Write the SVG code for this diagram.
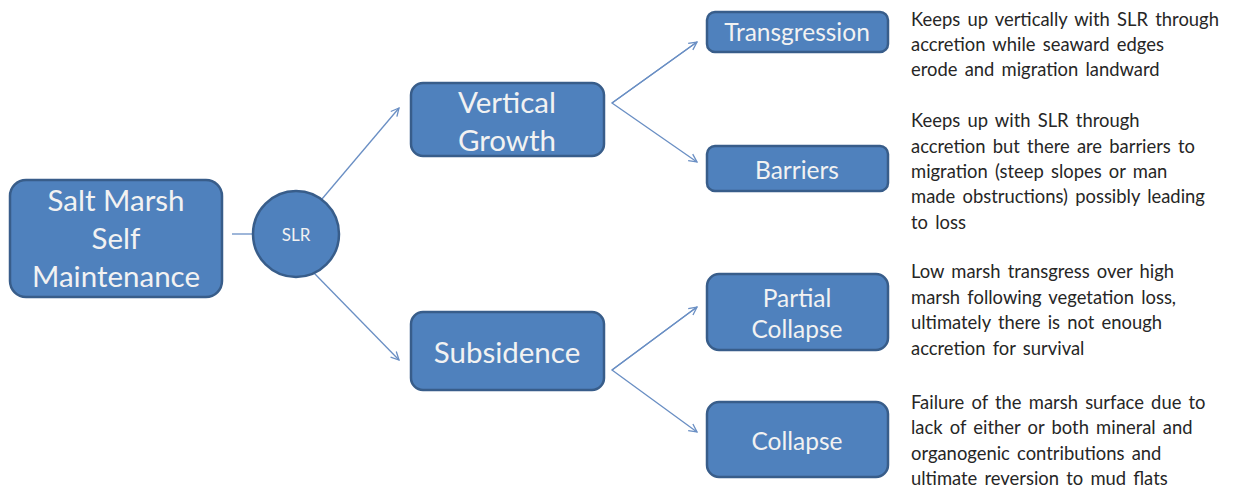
<svg xmlns="http://www.w3.org/2000/svg" width="1233" height="491" viewBox="0 0 1233 491">
<style>
.box{fill:#4f81bd;stroke:#385d8a;stroke-width:2.5}
.bt{fill:#f2f2f2;font-family:Lato,"Liberation Sans",sans-serif;text-anchor:middle;dominant-baseline:central}
.big{font-size:29.5px}
.mid{font-size:24.5px}
.desc{fill:#262626;font-family:Lato,"Liberation Sans",sans-serif;font-size:18.4px;word-spacing:2.5px}
.con{stroke:#6a8fc4;stroke-width:1.3;fill:none}
</style>
<defs>
<marker id="arr" viewBox="0 0 10 10" refX="9" refY="5" markerWidth="10" markerHeight="10" markerUnits="userSpaceOnUse" orient="auto">
<path d="M1,1 L9,5 L1,9" fill="none" stroke="#6a8fc4" stroke-width="1.3"/>
</marker>
</defs>
<rect width="1233" height="491" fill="#ffffff"/>
<g id="connectors">
<line class="con" x1="232" y1="234" x2="252" y2="234"/>
<line class="con" x1="322" y1="199" x2="399" y2="108" marker-end="url(#arr)"/>
<line class="con" x1="314" y1="273" x2="399" y2="360" marker-end="url(#arr)"/>
<polyline class="con" points="697,42 612,103 697,162" marker-end="url(#arr)"/>
<line class="con" x1="612" y1="103" x2="697" y2="42" marker-end="url(#arr)"/>
<polyline class="con" points="697,307 612,370 697,432" marker-end="url(#arr)"/>
<line class="con" x1="612" y1="370" x2="697" y2="307" marker-end="url(#arr)"/>
</g>
<g id="salt-marsh">
<rect class="box" x="10" y="180" width="212" height="117" rx="16"/>
<text class="bt big" x="116" y="199">Salt Marsh</text>
<text class="bt big" x="116" y="237">Self</text>
<text class="bt big" x="116" y="275">Maintenance</text>
</g>
<g id="slr">
<circle class="box" cx="296" cy="234" r="43"/>
<text class="bt" x="296" y="234" font-size="17">SLR</text>
</g>
<g id="vertical-growth">
<rect class="box" x="411" y="83" width="193" height="73" rx="12"/>
<text class="bt big" x="507" y="101">Vertical</text>
<text class="bt big" x="507" y="139">Growth</text>
</g>
<g id="subsidence">
<rect class="box" x="411" y="312" width="193" height="78" rx="12"/>
<text class="bt big" x="507" y="351">Subsidence</text>
</g>
<g id="transgression">
<rect class="box" x="707" y="12" width="181" height="40" rx="8"/>
<text class="bt mid" x="797" y="31">Transgression</text>
</g>
<g id="barriers">
<rect class="box" x="707" y="146" width="181" height="45" rx="8"/>
<text class="bt mid" x="797" y="169">Barriers</text>
</g>
<g id="partial-collapse">
<rect class="box" x="707" y="274" width="181" height="76" rx="12"/>
<text class="bt mid" x="797" y="297">Partial</text>
<text class="bt mid" x="797" y="328">Collapse</text>
</g>
<g id="collapse">
<rect class="box" x="707" y="402" width="181" height="75" rx="12"/>
<text class="bt mid" x="797" y="440">Collapse</text>
</g>
<g id="descriptions">
<text class="desc" x="911" y="26">Keeps up vertically with SLR through</text>
<text class="desc" x="911" y="51">accretion while seaward edges</text>
<text class="desc" x="911" y="76">erode and migration landward</text>
<text class="desc" x="911" y="127">Keeps up with SLR through</text>
<text class="desc" x="911" y="153">accretion but there are barriers to</text>
<text class="desc" x="911" y="178">migration (steep slopes or man</text>
<text class="desc" x="911" y="203">made obstructions) possibly leading</text>
<text class="desc" x="911" y="229">to loss</text>
<text class="desc" x="911" y="278">Low marsh transgress over high</text>
<text class="desc" x="911" y="304">marsh following vegetation loss,</text>
<text class="desc" x="911" y="329">ultimately there is not enough</text>
<text class="desc" x="911" y="355">accretion for survival</text>
<text class="desc" x="911" y="409">Failure of the marsh surface due to</text>
<text class="desc" x="911" y="434">lack of either or both mineral and</text>
<text class="desc" x="911" y="460">organogenic contributions and</text>
<text class="desc" x="911" y="485">ultimate reversion to mud flats</text>
</g>
</svg>
